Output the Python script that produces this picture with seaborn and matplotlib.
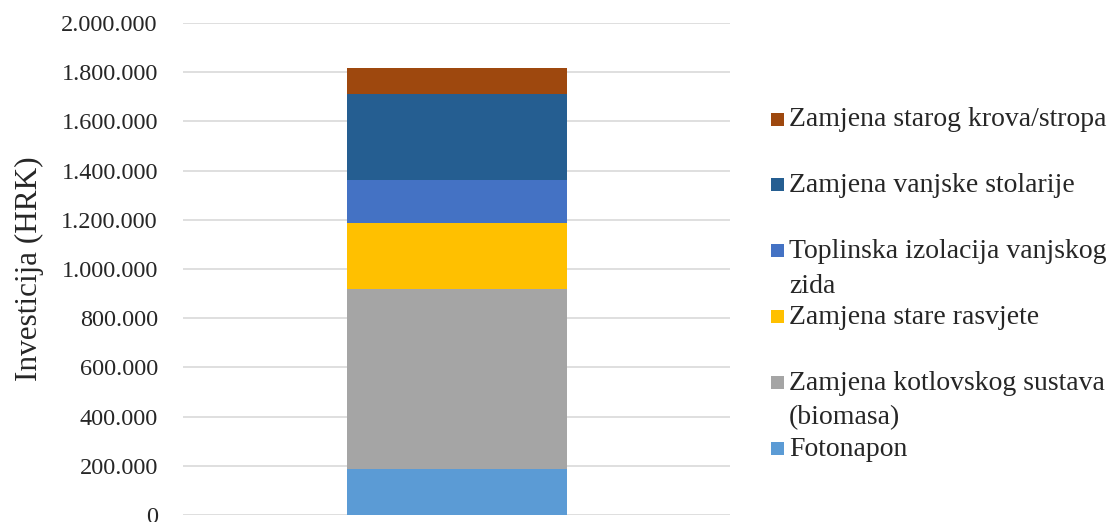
import numpy as np
import pandas as pd
import matplotlib
matplotlib.use("Agg")
import matplotlib.pyplot as plt
from matplotlib.patches import Rectangle
from matplotlib.ticker import FuncFormatter
import seaborn as sns

# stacked from bottom to top
mjere = ["Fotonapon",
         "Zamjena kotlovskog sustava\n(biomasa)",
         "Zamjena stare rasvjete",
         "Toplinska izolacija vanjskog\nzida",
         "Zamjena vanjske stolarije",
         "Zamjena starog krova/stropa"]
investicija = [185000, 734000, 268000, 174000, 352000, 105000]
boje = ["#5B9BD5", "#A5A5A5", "#FFC000", "#4472C4", "#255E91", "#9E480E"]

sns.set_style("white")
plt.rcParams["font.family"] = ["Liberation Serif", "DejaVu Serif"]

fig = plt.figure(figsize=(11.15, 5.22), dpi=100)
ax = fig.add_axes([0.164, 0.0134, 0.491, 0.9426])

df = pd.DataFrame({"kat": [""] * len(mjere), "mjera": mjere, "vrijednost": investicija})
dno = np.concatenate([[0], np.cumsum(investicija)[:-1]])
for i, row in df.iterrows():
    sns.barplot(x=[row["kat"]], y=[row["vrijednost"]], color=boje[i], bottom=dno[i],
                width=0.402, saturation=1, linewidth=0, edgecolor="none", ax=ax, zorder=3)

ax.set_xlim(-0.5, 0.5)
ax.set_ylim(0, 2000000)
ax.set_yticks(np.arange(0, 2000001, 200000))
ax.yaxis.set_major_formatter(FuncFormatter(lambda v, p: f"{int(v):,}".replace(",", ".")))
ax.tick_params(axis="y", labelsize=17.5, length=0, pad=18)
ax.set_xticks([])
ax.set_xlabel("")
ax.set_ylabel("Investicija (HRK)", fontsize=22.5, labelpad=12.5)
ax.yaxis.grid(True, color="#D9D9D9", linewidth=1.2)
ax.set_axisbelow(True)
for s in ax.spines.values():
    s.set_visible(False)

# legend, top entry first, Excel-like even spacing of first lines
W, H = 1115, 522
for j, k in enumerate(range(len(mjere) - 1, -1, -1)):
    base = 127 + j * 65.8
    fig.add_artist(Rectangle((771 / W, 1 - (base - 1.5) / H), 13 / W, 13 / H,
                             facecolor=boje[k], edgecolor="none",
                             transform=fig.transFigure))
    fig.text(789 / W, 1 - (base - 19.5) / H, mjere[k], fontsize=20, va="top",
             ha="left", linespacing=1.5)

fig.savefig("out.png", dpi=100)
